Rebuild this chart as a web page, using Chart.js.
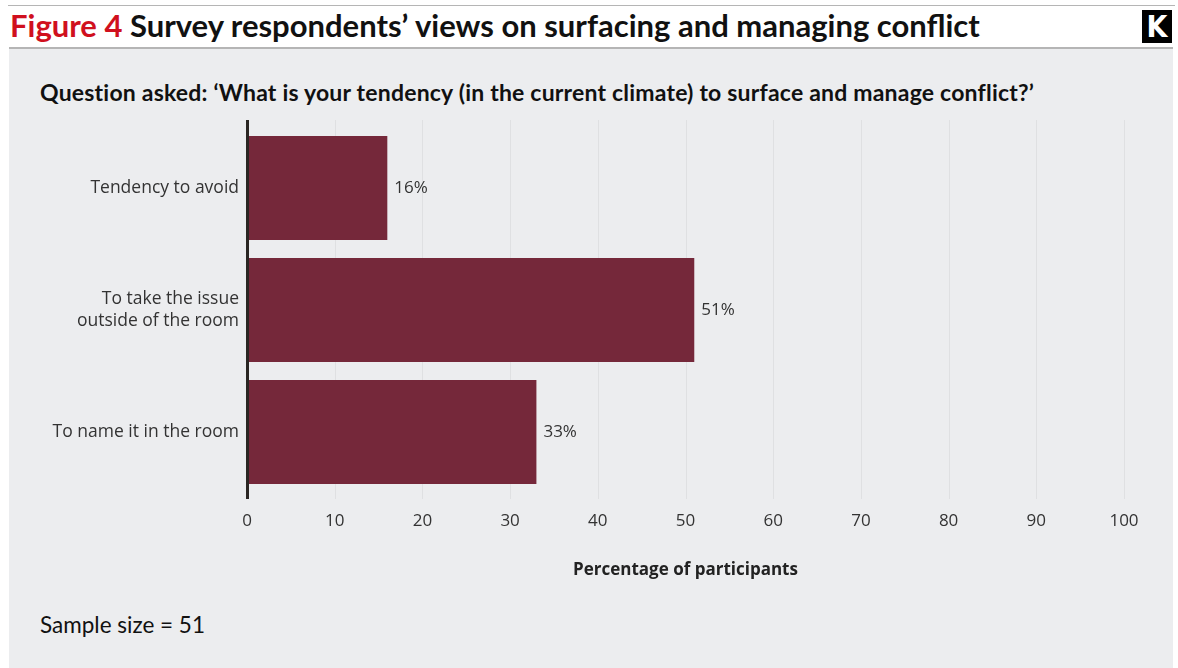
<!DOCTYPE html>
<html>
<head>
<meta charset="utf-8">
<script src="https://cdn.jsdelivr.net/npm/chart.js@4"></script>
<style>
  html, body { margin:0; padding:0; background:#ffffff; }
  body { width:1178px; height:668px; position:relative; overflow:hidden; font-family:Lato, "Open Sans", sans-serif; }
  #topline { position:absolute; left:8px; top:5px; width:1167px; height:1px; background:#b5b5b5; }
  #title { position:absolute; left:10px; top:6px; font-family:Lato; font-weight:bold; font-size:31px; color:#111; white-space:nowrap; }
  #title .red { color:#d0101e; }
  #logo { position:absolute; left:1142px; top:10px; width:30px; height:33px; background:#000; color:#fff; font-family:"DejaVu Sans Condensed", "DejaVu Sans"; font-weight:bold; font-size:30px; line-height:33px; text-align:center; }
  #panel { position:absolute; left:9px; top:47px; width:1164px; height:621px; background:#ecedef; border-top:2px solid #b5b5b5; }
  #question { position:absolute; left:40px; top:78px; font-family:Lato; font-weight:bold; font-size:23px; letter-spacing:0.2px; color:#111; white-space:nowrap; }
  #sample { position:absolute; left:40px; top:611px; font-family:Lato; font-size:22.5px; color:#111; white-space:nowrap; }
  #wrap { position:absolute; left:0; top:0; width:1178px; height:668px; }
</style>
</head>
<body>
<div id="topline"></div>
<div id="title"><span class="red">Figure 4</span> Survey respondents’ views on surfacing and managing conflict</div>
<div id="logo">K</div>
<div id="panel"></div>
<div id="question">Question asked: ‘What is your tendency (in the current climate) to surface and manage conflict?’</div>
<div id="sample">Sample size = 51</div>
<div id="wrap"><canvas id="c" width="1178" height="668"></canvas></div>
<script>
const categories = [["Tendency to avoid"], ["To take the issue", "outside of the room"], ["To name it in the room"]];
const values = [16, 51, 33];
const valueLabels = ["16%", "51%", "33%"];
const xTicks = [0, 10, 20, 30, 40, 50, 60, 70, 80, 90, 100];
const xTitle = "Percentage of participants";

const barColor = "#75283a";
const textColor = "#333333";
const labelFont = "Open Sans";

const gridPlugin = {
  id: "gridExt",
  beforeDatasetsDraw(chart) {
    const ctx = chart.ctx;
    const xs = chart.scales.x;
    const top = chart.chartArea.top - 7;
    const bottom = chart.chartArea.bottom + 6;
    ctx.save();
    ctx.strokeStyle = "#dfe0e2";
    ctx.lineWidth = 1;
    xs.ticks.forEach(t => {
      if (t.value === 0) return;
      const px = Math.round(xs.getPixelForValue(t.value)) + 0.5;
      ctx.beginPath(); ctx.moveTo(px, top); ctx.lineTo(px, bottom); ctx.stroke();
    });
    ctx.restore();
  },
  afterDatasetsDraw(chart) {
    const ctx = chart.ctx;
    const xs = chart.scales.x;
    const top = chart.chartArea.top - 7;
    const bottom = chart.chartArea.bottom + 6;
    ctx.save();
    ctx.strokeStyle = "#2a2623";
    ctx.lineWidth = 3;
    const px = xs.getPixelForValue(0) + 0.5;
    ctx.beginPath(); ctx.moveTo(px, top); ctx.lineTo(px, bottom); ctx.stroke();
    // value labels
    ctx.fillStyle = textColor;
    ctx.font = "17px '" + labelFont + "'";
    ctx.textAlign = "left";
    ctx.textBaseline = "middle";
    const meta = chart.getDatasetMeta(0);
    meta.data.forEach((bar, i) => {
      ctx.fillText(valueLabels[i], bar.x + 7, bar.y);
    });
    ctx.restore();
  }
};

new Chart(document.getElementById("c"), {
  type: "bar",
  data: {
    labels: categories,
    datasets: [{
      data: values,
      backgroundColor: barColor,
      borderWidth: 0,
      barPercentage: 0.852,
      categoryPercentage: 1.0
    }]
  },
  options: {
    indexAxis: "y",
    responsive: false,
    animation: false,
    layout: { padding: { top: 127, left: 0, right: 54, bottom: 80 } },
    plugins: { legend: { display: false }, tooltip: { enabled: false } },
    scales: {
      x: {
        type: "linear",
        min: 0, max: 100,
        afterBuildTicks(scale) { scale.ticks = xTicks.map(v => ({ value: v })); },
        afterFit(scale) { scale.height = 95; },
        grid: { display: false },
        border: { display: false },
        ticks: { color: textColor, font: { family: labelFont, size: 17 }, padding: 10, maxRotation: 0 },
        title: { display: true, text: xTitle, color: "#222", font: { family: labelFont, size: 17, weight: "bold" }, padding: { top: 0, bottom: 8 } }
      },
      y: {
        afterFit(scale) { scale.width = 247; },
        grid: { display: false },
        border: { display: false },
        ticks: { color: textColor, font: { family: labelFont, size: 17.5, lineHeight: 1.25 }, padding: 0 }
      }
    }
  },
  plugins: [gridPlugin]
});
</script>
</body>
</html>
